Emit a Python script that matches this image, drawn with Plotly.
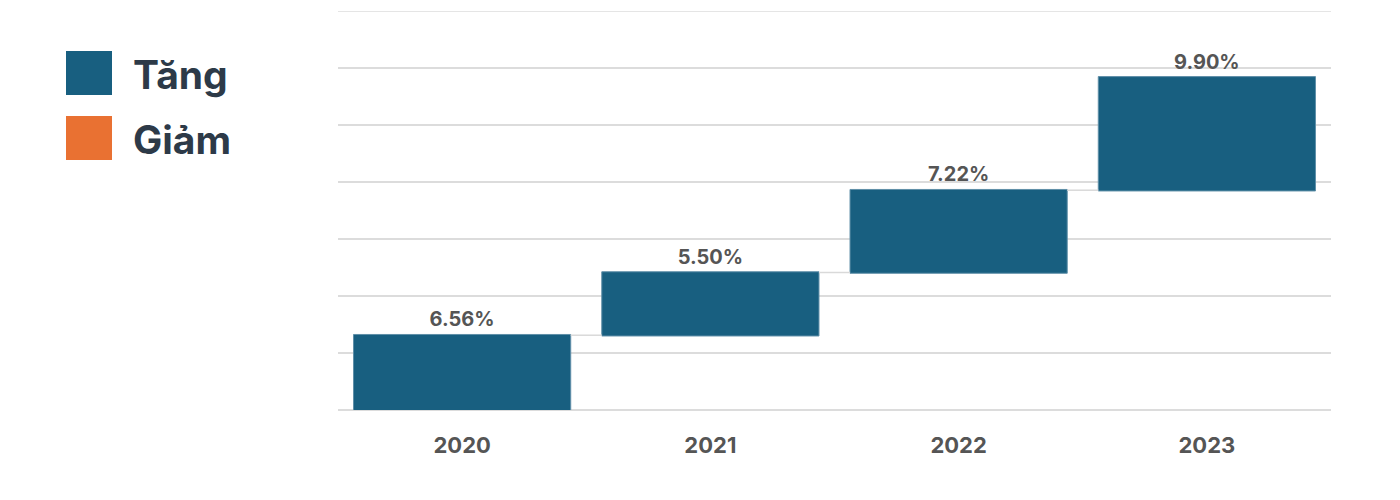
import plotly.graph_objects as go

years = ["2020", "2021", "2022", "2023"]
changes = [6.56, 5.50, 7.22, 9.90]
labels = ["6.56%", "5.50%", "7.22%", "9.90%"]
legend_names = ["Tăng", "Giảm"]
legend_colors = ["#185f80", "#e97132"]
y_max = 35

FONT = "Inter"
OFF = 8  # page body margin
L, T, W, H = 338 - OFF, 11 - OFF, 993, 399

def px_x(x):
    return (x - OFF - L) / W

def px_y(y):
    return (T + H - (y - OFF)) / H

fig = go.Figure()
fig.add_trace(go.Waterfall(
    x=years,
    y=changes,
    measure=["relative"] * len(changes),
    text=labels,
    textposition="outside",
    textfont=dict(family=FONT, size=20, color="#555555", weight="bold"),
    increasing=dict(marker=dict(color=legend_colors[0], line=dict(color="#5f8fa8", width=1))),
    decreasing=dict(marker=dict(color=legend_colors[1])),
    connector=dict(line=dict(color="#d9d9d9", width=1.5)),
    width=0.875,
    showlegend=False,
    cliponaxis=False,
))

# top gridline (plotly omits gridline at the range edge)
fig.add_shape(type="line", xref="paper", yref="y", x0=0, x1=1, y0=y_max, y1=y_max,
              line=dict(color="#dcdcdc", width=1.5), layer="below")

for i, (name, col) in enumerate(zip(legend_names, legend_colors)):
    y0 = 51 + i * 65
    fig.add_shape(type="rect", xref="paper", yref="paper",
                  x0=px_x(66), x1=px_x(112),
                  y0=px_y(y0), y1=px_y(y0 + 44),
                  fillcolor=col, line=dict(width=0))
    fig.add_annotation(xref="paper", yref="paper",
                       x=px_x(131), y=px_y(y0 + 23),
                       text=name, showarrow=False, xanchor="left", yanchor="middle",
                       font=dict(family=FONT, size=39, color="#2d3a48", weight="bold"))

fig.update_layout(
    width=1400, height=500,
    margin=dict(l=L, r=1400 - L - W, t=T, b=500 - T - H),
    paper_bgcolor="white", plot_bgcolor="white",
    font=dict(family=FONT),
    xaxis=dict(tickfont=dict(family=FONT, size=22, color="#555555", weight="bold"),
               showgrid=False, ticks="", ticklabelstandoff=20),
    yaxis=dict(range=[0, y_max], tick0=0, dtick=5, showticklabels=False, showgrid=True,
               gridcolor="#dcdcdc", gridwidth=1.5, zeroline=True,
               zerolinecolor="#dcdcdc", zerolinewidth=1.5),
)

fig.write_html("out.html")
